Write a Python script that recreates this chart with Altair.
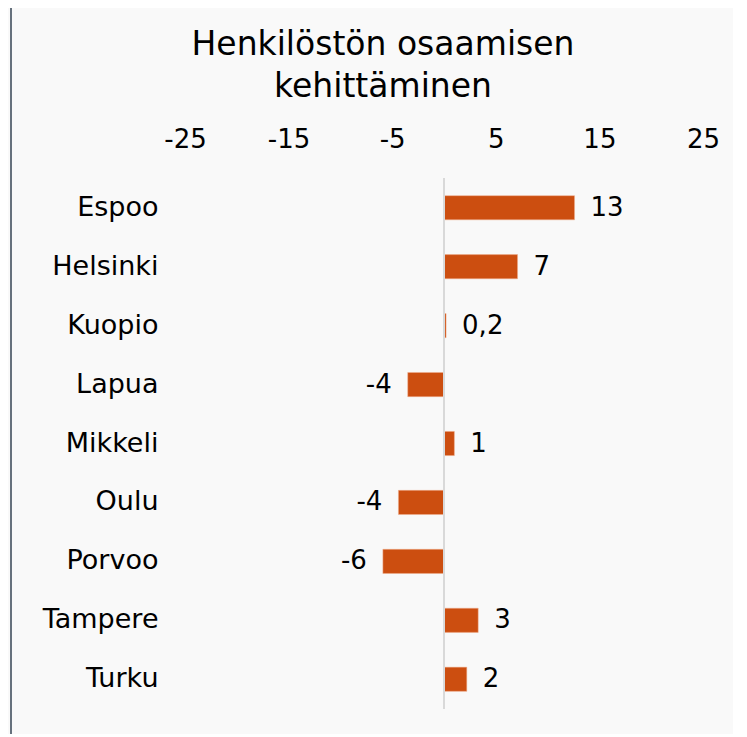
import altair as alt
import pandas as pd

cities = ["Espoo", "Helsinki", "Kuopio", "Lapua", "Mikkeli", "Oulu", "Porvoo", "Tampere", "Turku"]
values = [12.6, 7.1, 0.2, -3.5, 1.0, -4.4, -5.9, 3.3, 2.2]
labels = ["13", "7", "0,2", "-4", "1", "-4", "-6", "3", "2"]
tick_values = [-25, -15, -5, 5, 15, 25]
title_lines = ["Henkilöstön osaamisen", "kehittäminen"]

df = pd.DataFrame({"city": cities, "value": values, "label": labels})

FONT = "DejaVu Sans"
BAR = "#cc4e10"
FS = 26

x = alt.X("value:Q", scale=alt.Scale(domain=[-25, 25], nice=False),
          axis=alt.Axis(orient="top", values=tick_values, title=None, grid=False,
                        domain=False, ticks=False, labelFontSize=FS, labelFont=FONT,
                        labelColor="#000000", labelPadding=26, labelFlush=False,
                        labelExpr="'' + datum.value"))
y = alt.Y("city:N", sort=cities, scale=alt.Scale(paddingInner=0.59, paddingOuter=0.3),
          axis=alt.Axis(title=None, domain=False, ticks=False, labelFontSize=27,
                        labelFont=FONT, labelColor="#000000", labelPadding=27))

one = pd.DataFrame({"z": [0]})
base = alt.Chart(df)
bars = base.mark_bar(color=BAR, stroke="#f0b090", strokeWidth=0.5).encode(x=x, y=y)
zero = alt.Chart(one).mark_rule(color="#d9d9d9", strokeWidth=2).encode(x="z:Q")
frame = alt.Chart(one).mark_rule(color="#66717d", strokeWidth=2).encode(
    x=alt.value(-174), y=alt.value(-170), y2=alt.value(560))
t1 = alt.Chart(one).mark_text(text=title_lines[0], font=FONT, fontSize=33, color="#000000",
                              align="center", baseline="alphabetic").encode(
    x=alt.value(198), y=alt.value(-123))
t2 = alt.Chart(one).mark_text(text=title_lines[1], font=FONT, fontSize=33, color="#000000",
                              align="center", baseline="alphabetic").encode(
    x=alt.value(198), y=alt.value(-81))
pos = base.transform_filter("datum.value >= 0").mark_text(
    align="left", baseline="middle", dx=16, fontSize=FS, font=FONT, color="#000000"
).encode(x="value:Q", y=alt.Y("city:N", sort=cities), text="label:N")
neg = base.transform_filter("datum.value < 0").mark_text(
    align="right", baseline="middle", dx=-16, fontSize=FS, font=FONT, color="#000000"
).encode(x="value:Q", y=alt.Y("city:N", sort=cities), text="label:N")

chart = alt.layer(frame, bars, zero, pos, neg, t1, t2).properties(
    width=518, height=531,
    autosize=alt.AutoSizeParams(type="none"),
    padding={"left": 177, "top": 170, "right": 30, "bottom": 25},
    background="#f9f9f9",
).configure_view(stroke=None)

chart.save("out.html", embed_options={"renderer": "svg", "actions": False})
